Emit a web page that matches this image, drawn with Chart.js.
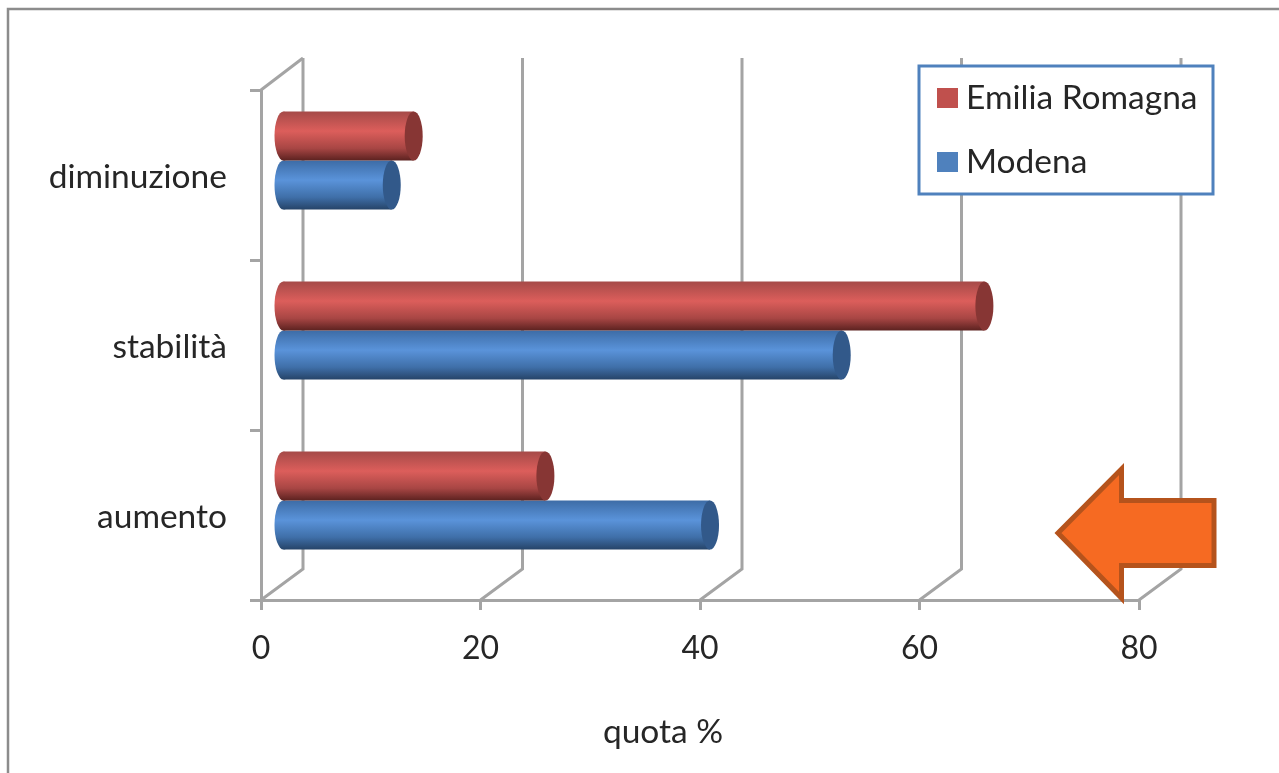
<!DOCTYPE html>
<html lang="it">
<head>
<meta charset="utf-8">
<title>quota %</title>
<script src="https://cdn.jsdelivr.net/npm/chart.js@4"></script>
<style>
    html, body { margin: 0; background: #fff; }
    canvas { display: block; }
</style>
</head>
<body>
<canvas id="quotaChart" width="1279" height="773"></canvas>
<script>
    const categories = ['diminuzione', 'stabilità', 'aumento'];
    const emiliaRomagna = [12, 64, 24];
    const modena = [10, 51, 39];
    const xTicks = [0, 20, 40, 60, 80];
    const xTitle = 'quota %';

    const FONT = 'Lato, sans-serif';
    const GRID = '#a4a4a4';

    // depth of the fake 3D box, the bars sit half way into it
    const DEPTH_X = 42;
    const DEPTH_TOP = 32;
    const DEPTH_FOOT = 31;
    const BAR_SHIFT_X = 21;
    const BAR_SHIFT_Y = 14.5;
    const CAP_RADIUS = 9;
    const CATEGORY_PCT = 0.577;

    const RED = { swatch: '#c0504d', cap: '#873634', stops: ['#a54a48', '#dc5e5b', '#a84644', '#5c2220'] };
    const BLUE = { swatch: '#4f81bd', cap: '#32598a', stops: ['#3d6ca6', '#5a93da', '#3f6fa8', '#264468'] };

    // vertical shading of one cylinder, worked out from its category band
    function cylinderFill(palette) {
        return function (context) {
            const chart = context.chart;
            const yScale = chart.scales.y;
            if (!chart.chartArea || !yScale || context.type !== 'data') return palette.swatch;
            const band = yScale.height / categories.length * CATEGORY_PCT;
            const top = yScale.getPixelForValue(context.dataIndex) - band / 2 + context.datasetIndex * band / 2;
            const g = chart.ctx.createLinearGradient(0, top, 0, top + band / 2);
            g.addColorStop(0, palette.stops[0]);
            g.addColorStop(0.4, palette.stops[1]);
            g.addColorStop(0.75, palette.stops[2]);
            g.addColorStop(1, palette.stops[3]);
            return g;
        };
    }

    // back walls and everything that sits behind the bars
    const boxPlugin = {
        id: 'box',
        beforeDraw(chart) {
            const { ctx, chartArea } = chart;
            const xScale = chart.scales.x;
            ctx.save();

            // outer frame, open on the right and at the bottom
            ctx.strokeStyle = '#8c8c8c';
            ctx.lineWidth = 2.5;
            ctx.beginPath();
            ctx.moveTo(8, 773);
            ctx.lineTo(8, 9);
            ctx.lineTo(1279, 9);
            ctx.stroke();

            ctx.strokeStyle = GRID;
            ctx.lineWidth = 3;
            const backTop = chartArea.top - DEPTH_TOP;
            xTicks.forEach(v => {
                const x = xScale.getPixelForValue(v);
                ctx.beginPath();
                ctx.moveTo(x, chartArea.bottom);
                ctx.lineTo(x + DEPTH_X, chartArea.bottom - DEPTH_FOOT);
                ctx.lineTo(x + DEPTH_X, backTop);
                ctx.stroke();
            });
            // side wall top edge
            ctx.beginPath();
            ctx.moveTo(chartArea.left, chartArea.top);
            ctx.lineTo(chartArea.left + DEPTH_X, backTop);
            ctx.stroke();

            ctx.restore();
        },
        afterDraw(chart) {
            const ctx = chart.ctx;
            ctx.save();
            ctx.fillStyle = '#262626';
            ctx.font = '33.5px ' + FONT;
            ctx.textAlign = 'center';
            ctx.textBaseline = 'middle';
            ctx.fillText(xTitle, 663, 732);
            ctx.restore();
        }
    };

    // shifts the bars into the box and adds the round ends
    const cylinderPlugin = {
        id: 'cylinder',
        beforeDatasetDraw(chart) {
            chart.ctx.save();
            chart.ctx.translate(BAR_SHIFT_X, -BAR_SHIFT_Y);
        },
        afterDatasetDraw(chart, args) {
            const ctx = chart.ctx;
            const palette = args.index === 0 ? RED : BLUE;
            args.meta.data.forEach(bar => {
                const r = bar.height / 2;
                ctx.fillStyle = bar.options.backgroundColor;
                ctx.beginPath();
                ctx.ellipse(bar.base, bar.y, CAP_RADIUS, r, 0, 0, Math.PI * 2);
                ctx.fill();
                ctx.fillStyle = palette.cap;
                ctx.beginPath();
                ctx.ellipse(bar.x, bar.y, CAP_RADIUS, r, 0, 0, Math.PI * 2);
                ctx.fill();
            });
            ctx.restore();
        }
    };

    // legend box over the back wall, rows taken from the datasets
    const legendPlugin = {
        id: 'legendBox',
        beforeDatasetsDraw(chart) {
            const ctx = chart.ctx;
            ctx.save();
            ctx.fillStyle = '#fff';
            ctx.strokeStyle = '#4f81bd';
            ctx.lineWidth = 3;
            ctx.fillRect(919, 66, 294, 128);
            ctx.strokeRect(919, 66, 294, 128);
            ctx.font = '33.5px ' + FONT;
            ctx.textBaseline = 'middle';
            chart.data.datasets.forEach((ds, i) => {
                const y = 98 + i * 64;
                ctx.fillStyle = i === 0 ? RED.swatch : BLUE.swatch;
                ctx.fillRect(937, y - 10, 21, 20);
                ctx.fillStyle = '#262626';
                ctx.fillText(ds.label, 966, y);
            });
            ctx.restore();
        }
    };

    // orange block arrow in the lower right corner
    const arrowPlugin = {
        id: 'arrow',
        afterDraw(chart) {
            const ctx = chart.ctx;
            ctx.save();
            ctx.fillStyle = '#f66a22';
            ctx.strokeStyle = '#b5531c';
            ctx.lineWidth = 5;
            ctx.lineJoin = 'miter';
            ctx.beginPath();
            ctx.moveTo(1058, 533);
            ctx.lineTo(1121.5, 469);
            ctx.lineTo(1121.5, 500.5);
            ctx.lineTo(1214, 500.5);
            ctx.lineTo(1214, 565.5);
            ctx.lineTo(1121.5, 565.5);
            ctx.lineTo(1121.5, 598);
            ctx.closePath();
            ctx.fill();
            ctx.stroke();
            ctx.restore();
        }
    };

    document.addEventListener('DOMContentLoaded', function () {
        const axisLine = { display: true, color: GRID, width: 3 };

        new Chart(document.getElementById('quotaChart').getContext('2d'), {
            type: 'bar',
            data: {
                labels: categories,
                datasets: [
                    { label: 'Emilia Romagna', data: emiliaRomagna, backgroundColor: cylinderFill(RED), borderWidth: 0 },
                    { label: 'Modena', data: modena, backgroundColor: cylinderFill(BLUE), borderWidth: 0 }
                ]
            },
            plugins: [boxPlugin, cylinderPlugin, legendPlugin, arrowPlugin],
            options: {
                indexAxis: 'y',
                responsive: false,
                animation: false,
                categoryPercentage: CATEGORY_PCT,
                barPercentage: 1,
                layout: { padding: { top: 90, right: 140, bottom: 0, left: 0 } },
                plugins: {
                    legend: { display: false },
                    tooltip: { enabled: false }
                },
                scales: {
                    x: {
                        min: 0,
                        max: 80,
                        afterFit(scale) { scale.height = 173; },
                        border: axisLine,
                        grid: { drawOnChartArea: false, drawTicks: true, tickLength: 10, color: GRID, lineWidth: 3 },
                        ticks: { stepSize: 20, maxRotation: 0, padding: 19, color: '#262626', font: { family: FONT, size: 32 } }
                    },
                    y: {
                        afterFit(scale) { scale.width = 261; },
                        border: axisLine,
                        grid: { drawOnChartArea: false, drawTicks: true, tickLength: 11, color: GRID, lineWidth: 3 },
                        ticks: { padding: 23, labelOffset: 2, color: '#262626', font: { family: FONT, size: 33.5 } }
                    }
                }
            }
        });
    });
</script>
</body>
</html>
